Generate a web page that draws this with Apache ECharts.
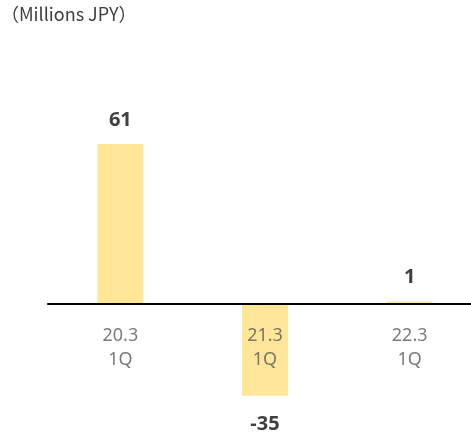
<!DOCTYPE html>
<html>
<head>
<meta charset="utf-8">
<script src="https://cdn.jsdelivr.net/npm/echarts@6/dist/echarts.min.js"></script>
<style>
  html, body { margin: 0; padding: 0; background: #ffffff; }
  #chart { width: 471px; height: 435px; }
</style>
</head>
<body>
<div id="chart"></div>
<script>
// Quarterly results (first quarter of each fiscal year), millions of yen
const periods = ['20.3', '21.3', '22.3'];
const quarter = '1Q';
const values = [61, -35, 1];
const unitLabel = '（Millions JPY）';

const categories = periods.map(p => p + '\n' + quarter);

const barData = values.map(v => ({
  value: v,
  label: v < 0 ? { position: 'bottom', distance: 19 } : { position: 'top', distance: 14 }
}));

// Category names sit just under the zero line, on top of the bars
const categoryMarks = categories.map(c => [c, 0]);

const chart = echarts.init(document.getElementById('chart'), null, { renderer: 'canvas' });

chart.setOption({
  animation: false,
  backgroundColor: '#ffffff',
  title: {
    text: unitLabel,
    left: 1,
    top: 5,
    padding: 0,
    textStyle: {
      fontFamily: '"Noto Sans CJK JP", "Noto Sans", sans-serif',
      fontSize: 18,
      fontWeight: 'normal',
      color: '#404040'
    }
  },
  grid: {
    left: 48, right: -11, top: 94.2, bottom: 26.1,
    containLabel: false,
    outerBoundsMode: 'none'
  },
  xAxis: {
    type: 'category',
    data: categories,
    z: 10,
    axisLine: { onZero: true, lineStyle: { color: '#000000', width: 2 } },
    axisTick: { show: false },
    axisLabel: { show: false },
    splitLine: { show: false }
  },
  yAxis: {
    type: 'value',
    min: -40,
    max: 80,
    show: false,
    splitLine: { show: false }
  },
  series: [{
    type: 'bar',
    data: barData,
    barWidth: 46,
    itemStyle: { color: '#FFE699' },
    label: {
      show: true,
      fontFamily: '"Noto Sans", sans-serif',
      fontSize: 20,
      fontWeight: 'bold',
      color: '#404040'
    }
  }, {
    type: 'scatter',
    data: categoryMarks,
    z: 12,
    symbolSize: 1,
    silent: true,
    itemStyle: { color: 'rgba(0,0,0,0)' },
    label: {
      show: true,
      position: 'bottom',
      distance: 19,
      formatter: p => p.data[0],
      fontFamily: '"Noto Sans", sans-serif',
      fontSize: 18,
      lineHeight: 24,
      color: '#595959'
    }
  }]
});
</script>
</body>
</html>
